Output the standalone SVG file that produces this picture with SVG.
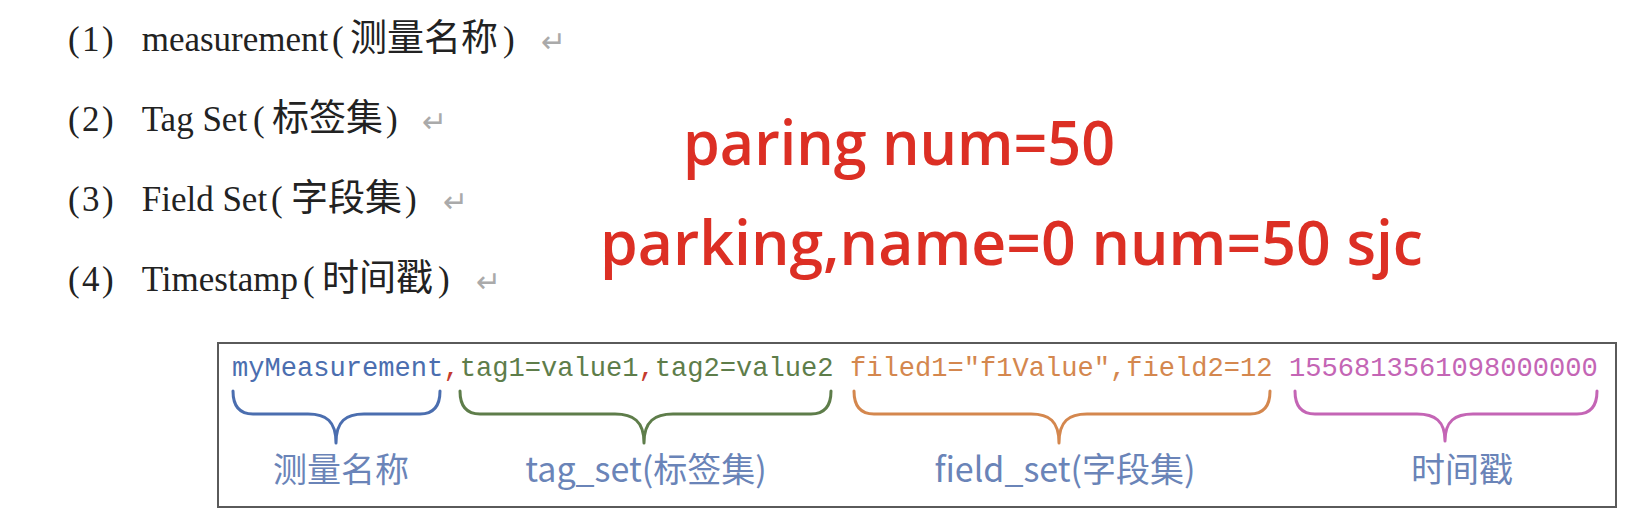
<svg xmlns="http://www.w3.org/2000/svg" width="1628" height="518" viewBox="0 0 1628 518">
<style>
.item{font-family:"Liberation Serif","Noto Sans CJK SC",serif;font-size:35px;fill:#222}
.cjk{font-family:"Noto Sans CJK SC","Liberation Serif",sans-serif;font-size:37px}
.ret{font-family:"DejaVu Sans",sans-serif;font-size:30px;fill:#aaa}
.red{font-family:"Open Sans","Noto Sans",sans-serif;font-size:61px;font-weight:600;fill:#dc2f24}
.code{font-family:"Liberation Mono",monospace;font-size:27.1px}
.lbl{font-family:"Noto Sans CJK SC","Noto Sans",sans-serif;font-size:34px;fill:#6a84b8;text-anchor:middle}
.brace{fill:none;stroke-width:3;stroke-linecap:round;stroke-linejoin:round}
</style>
<rect width="1628" height="518" fill="#ffffff"/>

<g id="list">
<text class="item" y="51"><tspan x="68">(</tspan><tspan x="82">1</tspan><tspan x="102">)</tspan><tspan x="141.7">measurement</tspan><tspan x="332">(</tspan><tspan class="cjk" x="350">测量名称</tspan><tspan x="503">)</tspan></text>
<text class="ret" x="541" y="52">↵</text>
<text class="item" y="131"><tspan x="68">(</tspan><tspan x="82">2</tspan><tspan x="102">)</tspan><tspan x="141.7">Tag Set</tspan><tspan x="253">(</tspan><tspan class="cjk" x="272">标签集</tspan><tspan x="386">)</tspan></text>
<text class="ret" x="422" y="132">↵</text>
<text class="item" y="211"><tspan x="68">(</tspan><tspan x="82">3</tspan><tspan x="102">)</tspan><tspan x="141.7">Field Set</tspan><tspan x="271">(</tspan><tspan class="cjk" x="291">字段集</tspan><tspan x="405">)</tspan></text>
<text class="ret" x="443" y="212">↵</text>
<text class="item" y="291"><tspan x="68">(</tspan><tspan x="82">4</tspan><tspan x="102">)</tspan><tspan x="141.7">Timestamp</tspan><tspan x="303">(</tspan><tspan class="cjk" x="322">时间戳</tspan><tspan x="438">)</tspan></text>
<text class="ret" x="476" y="292">↵</text>
</g>

<g id="red-notes">
<text class="red" x="683" y="165" textLength="432" lengthAdjust="spacingAndGlyphs">paring num=50</text>
<text class="red" x="600" y="264.5" textLength="823" lengthAdjust="spacingAndGlyphs">parking,name=0 num=50 sjc</text>
</g>

<g id="line-protocol">
<rect x="218" y="343" width="1398" height="164" fill="#ffffff" stroke="#5a5a5a" stroke-width="2"/>
<text class="code" x="232" y="376"><tspan fill="#4b6eaf">myMeasurement</tspan><tspan fill="#c43b2e">,</tspan><tspan fill="#5e7d4a">tag1=value1</tspan><tspan fill="#c43b2e">,</tspan><tspan fill="#5e7d4a">tag2=value2</tspan> <tspan fill="#d4874e">filed1="f1Value",field2=12</tspan> <tspan fill="#c465b5">1556813561098000000</tspan></text>
</g>

<g id="braces">
<path class="brace" stroke="#4b6eaf" d="M233,391 Q233,414 253,414 L308,414 C326,414 336,421 336,443 C336,421 346,414 364,414 L420,414 Q440,414 440,391"/>
<path class="brace" stroke="#5e7d4a" d="M460,391 Q460,414 480,414 L615,414 C633,414 644,421 644,443 C644,421 655,414 673,414 L811,414 Q831,414 831,391"/>
<path class="brace" stroke="#d4874e" d="M854,391 Q854,414 874,414 L1031,414 C1049,414 1059,421 1059,443 C1059,421 1069,414 1087,414 L1250,414 Q1270,414 1270,391"/>
<path class="brace" stroke="#c465b5" d="M1295,391 Q1295,414 1315,414 L1417,414 C1435,414 1445,421 1445,441 C1445,421 1455,414 1473,414 L1577,414 Q1597,414 1597,391"/>
</g>

<g id="labels">
<text class="lbl" x="341" y="482">测量名称</text>
<text class="lbl" x="646" y="482">tag_set(标签集)</text>
<text class="lbl" x="1065" y="482">field_set(字段集)</text>
<text class="lbl" x="1462" y="482">时间戳</text>
</g>
</svg>
